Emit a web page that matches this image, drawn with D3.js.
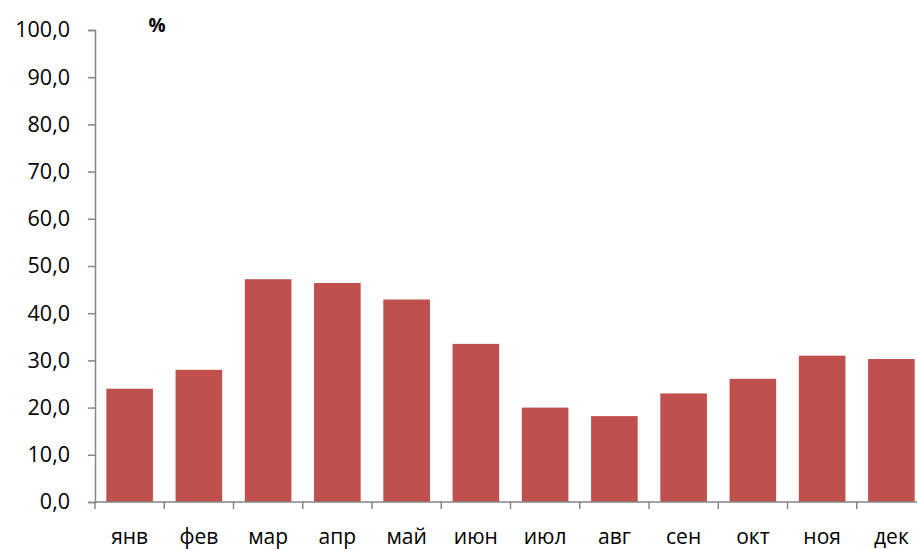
<!DOCTYPE html>
<html><head><meta charset="utf-8">
<script src="https://cdn.jsdelivr.net/npm/d3@7"></script>
<style>body{margin:0;background:#fff}svg{display:block}</style>
</head><body><svg id="c" width="917" height="549"></svg>
<script>
const categories = ["янв","фев","мар","апр","май","июн","июл","авг","сен","окт","ноя","дек"];
const values = [24.0, 28.0, 47.2, 46.4, 42.9, 33.5, 20.0, 18.2, 23.0, 26.1, 31.0, 30.3];
const yTicks = [0,10,20,30,40,50,60,70,80,90,100];
const unitLabel = "%";

(function(){
const svg = d3.select("#c");
const mLeft = 95, mTop = 30, mBottom = 502, bandW = 69.25;
const x = d3.scaleBand().domain(categories).range([mLeft, mLeft + bandW*categories.length]).paddingInner(0.327).paddingOuter(0.1635);
const y = d3.scaleLinear().domain([0,100]).range([mBottom, mTop]);
const font = "'Open Sans', sans-serif";
const axisColor = "#868686";

svg.selectAll("rect.bar").data(values).join("rect")
  .attr("x",(d,i)=>x(categories[i])).attr("width",x.bandwidth())
  .attr("y",d=>y(d)).attr("height",d=>y(0)-y(d))
  .attr("fill","#C0504D");

const ya = svg.append("g").attr("transform",`translate(${mLeft},0)`)
  .call(d3.axisLeft(y).tickValues(yTicks).tickSize(7).tickPadding(18).tickFormat(d=>d3.format(".1f")(d).replace(".",",")));
ya.select(".domain").attr("stroke",axisColor).attr("stroke-width",1.5);
ya.selectAll(".tick line").attr("stroke",axisColor).attr("stroke-width",1.5);
ya.selectAll("text").attr("font-family",font).attr("font-size",21.5).attr("fill","#000");

const xb = d3.scaleLinear().domain([0,categories.length]).range([mLeft, mLeft+bandW*categories.length]);
const xa = svg.append("g").attr("transform",`translate(0,${mBottom})`);
xa.append("line").attr("x1",mLeft).attr("x2",mLeft+bandW*categories.length).attr("stroke",axisColor).attr("stroke-width",1.5);
xa.selectAll("line.t").data(d3.range(categories.length+1)).join("line").attr("class","t")
  .attr("x1",d=>xb(d)).attr("x2",d=>xb(d)).attr("y1",0).attr("y2",7).attr("stroke",axisColor).attr("stroke-width",1.5);
xa.selectAll("text").data(categories).join("text")
  .attr("x",(d,i)=>xb(i+0.5)).attr("y",42).attr("text-anchor","middle")
  .attr("font-family",font).attr("font-size",21).text(d=>d);

svg.append("text").attr("x",157).attr("y",32).attr("text-anchor","middle")
  .attr("font-family",font).attr("font-weight","bold").attr("font-size",19).text(unitLabel);
})();
</script></body></html>
